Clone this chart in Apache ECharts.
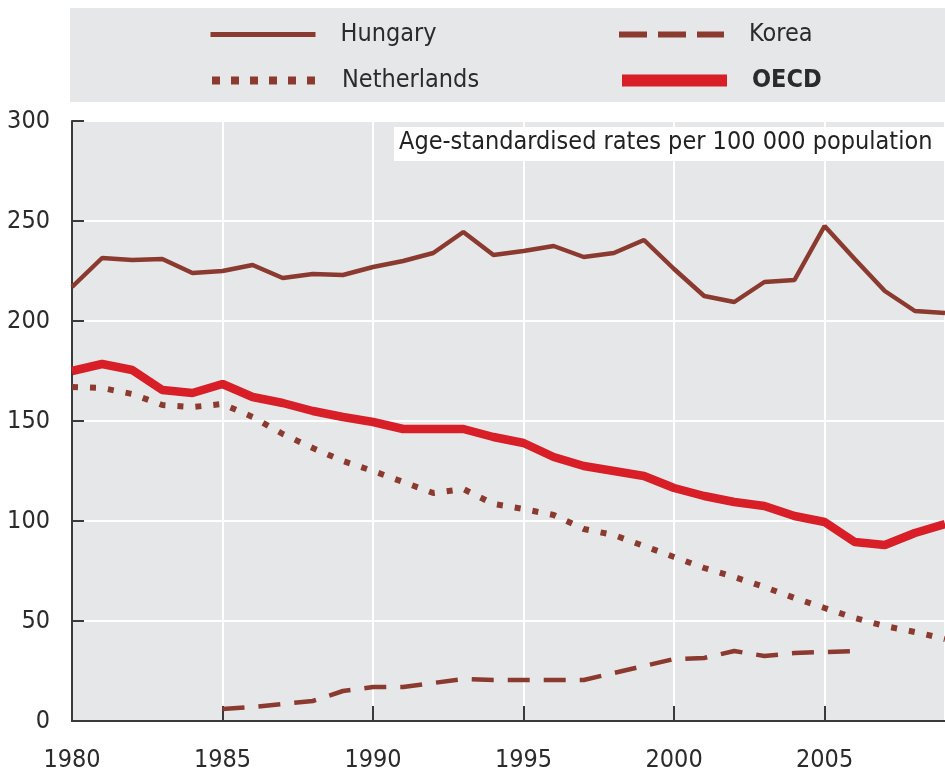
<!DOCTYPE html>
<html>
<head>
<meta charset="utf-8">
<script src="https://cdn.jsdelivr.net/npm/echarts@6/dist/echarts.min.js"></script>
<style>
html, body { margin: 0; padding: 0; background: #fff; }
#chart { width: 945px; height: 776px; }
</style>
</head>
<body>
<div id="chart"></div>
<script>
// values (age-standardised rates per 100 000)
const years = [1980, 1981, 1982, 1983, 1984, 1985, 1986, 1987, 1988, 1989,
               1990, 1991, 1992, 1993, 1994, 1995, 1996, 1997, 1998, 1999,
               2000, 2001, 2002, 2003, 2004, 2005, 2006, 2007, 2008, 2009];
const hungary = [217, 231.5, 230.5, 231, 224, 225, 228, 221.5, 223.5, 223,
                 227, 230, 234, 244.5, 233, 235, 237.5, 232, 234, 240.5,
                 226, 212.5, 209.5, 219.5, 220.5, 247.5, 231, 215, 205, 204];
const netherlands = [167, 166.5, 163.5, 158, 157, 158.5, 152, 143.5, 136.5, 130,
                     125, 119.5, 114, 116, 108.5, 106, 103, 96, 93, 87.5,
                     82, 76.5, 72, 67, 61.5, 56.5, 51.5, 47.5, 44.5, 41];
const oecd = [175, 178.5, 175.5, 165.5, 164, 168.5, 162, 159, 155, 152,
              149.5, 146, 146, 146, 142, 139, 132, 127.5, 125, 122.5,
              116.5, 112.5, 109.5, 107.5, 102.5, 99.5, 89.5, 88, 94, 98.5];
const koreaYears = [1985, 1986, 1987, 1988, 1989, 1990, 1991, 1992, 1993, 1994, 1995,
                    1996, 1997, 1998, 1999, 2000, 2001, 2002, 2003, 2004, 2005, 2006];
const korea = [6, 7, 8.5, 10, 15, 17, 17, 19, 21, 20.5, 20.5,
               20.5, 20.5, 24, 27.5, 31, 31.5, 35, 32.5, 34, 34.5, 35];

const xMin = 1980, xMax = 2009, xStep = 5;
const yMin = 0, yMax = 300, yStep = 50;
const note = 'Age-standardised rates per 100 000 population';

const FONT = "'DejaVu Sans Condensed', 'Liberation Sans Narrow', sans-serif";
const BROWN = '#8b3a2f';
const RED = '#d81e27';
const PANEL = '#e6e7e8';
const AXIS = '#3a3a3a';

function pairs(xs, ys) {
    return xs.map((x, i) => [x, ys[i]]);
}

function legendItem(name, left, top, lineStyle, bold) {
    return {
        data: [name],
        left: left,
        top: top,
        padding: 0,
        itemWidth: 105,
        itemHeight: 14,
        selectedMode: false,
        lineStyle: lineStyle,
        itemStyle: {opacity: 0},
        textStyle: {
            fontFamily: FONT,
            fontSize: 25,
            color: '#2b2b2b',
            fontWeight: bold ? 'bold' : 'normal',
            padding: [0, 0, 0, 20]
        }
    };
}

const chart = echarts.init(document.getElementById('chart'));

chart.setOption({
    animation: false,
    backgroundColor: '#fff',
    textStyle: {fontFamily: FONT},
    graphic: [
        {type: 'rect', left: 70, top: 8, z: -10, shape: {width: 880, height: 94}, style: {fill: PANEL}},
        {type: 'rect', left: 394, top: 127, z: 100, shape: {width: 560, height: 34}, style: {fill: '#fff'}},
        {type: 'text', left: 399, top: 130, z: 101, style: {text: note, fontFamily: FONT, fontSize: 25, fill: '#222'}}
    ],
    legend: [
        legendItem('Hungary', 208, 22, {color: BROWN, width: 5, type: 'solid'}),
        legendItem('Korea', 616, 22, {color: BROWN, width: 6, type: [28, 11]}),
        legendItem('Netherlands', 208, 68, {color: BROWN, width: 8, type: [8, 11]}),
        legendItem('OECD', 616, 68, {color: RED, width: 12, type: 'solid'}, true)
    ],
    grid: {
        left: 72, right: 0, top: 121, bottom: 55,
        show: true, backgroundColor: PANEL, borderWidth: 0
    },
    xAxis: {
        type: 'value', min: xMin, max: xMax, interval: xStep,
        axisLine: {show: true, lineStyle: {color: AXIS, width: 2}},
        axisTick: {show: true, inside: true, length: 15, lineStyle: {color: AXIS, width: 2}},
        splitLine: {show: true, lineStyle: {color: '#fff', width: 2}},
        axisLabel: {
            fontFamily: FONT, fontSize: 25, color: '#2b2b2b', margin: 27,
            showMaxLabel: false,
            formatter: v => (v % xStep === 0 ? String(v) : '')
        }
    },
    yAxis: {
        type: 'value', min: yMin, max: yMax, interval: yStep,
        axisLine: {show: true, lineStyle: {color: AXIS, width: 2}},
        axisTick: {show: true, inside: true, length: 12, lineStyle: {color: AXIS, width: 2}},
        splitLine: {show: true, lineStyle: {color: '#fff', width: 2}},
        axisLabel: {fontFamily: FONT, fontSize: 25, color: '#2b2b2b', margin: 22}
    },
    series: [
        {
            name: 'Korea', type: 'line', symbol: 'none', z: 3,
            data: pairs(koreaYears, korea),
            lineStyle: {color: BROWN, width: 4.5, type: [22, 14]},
            itemStyle: {color: BROWN}
        },
        {
            name: 'Netherlands', type: 'line', symbol: 'none', z: 3,
            data: pairs(years, netherlands),
            lineStyle: {color: BROWN, width: 6, type: [6, 12]},
            itemStyle: {color: BROWN}
        },
        {
            name: 'Hungary', type: 'line', symbol: 'none', z: 4,
            data: pairs(years, hungary),
            lineStyle: {color: BROWN, width: 4.5},
            itemStyle: {color: BROWN}
        },
        {
            name: 'OECD', type: 'line', symbol: 'none', z: 5,
            data: pairs(years, oecd),
            lineStyle: {color: RED, width: 8.5},
            itemStyle: {color: RED}
        }
    ]
});
</script>
</body>
</html>
